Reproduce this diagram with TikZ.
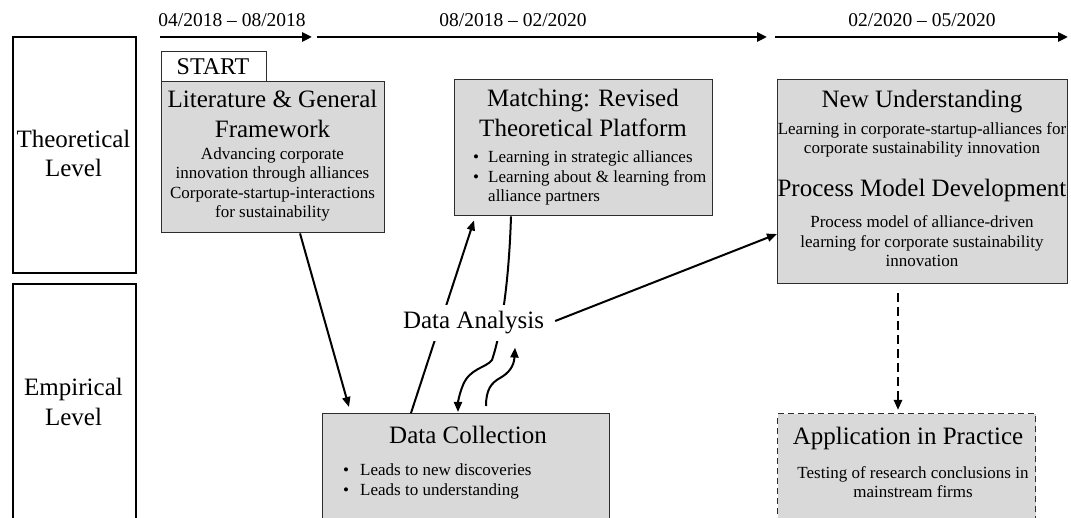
\documentclass[tikz,border=0pt]{standalone}
\usepackage{fontspec}
\setmainfont{Liberation Serif}
\usetikzlibrary{arrows.meta}

\definecolor{boxfill}{RGB}{217,217,217}
\definecolor{edge}{RGB}{45,45,45}
\newcommand{\itemdot}[1][15pt]{\makebox[#1][l]{\textbullet}}

% multi-line nodes are placed by the baseline of their last line
\tikzset{
  box/.style={draw=edge, line width=1.4pt, fill=boxfill, inner sep=0pt, anchor=north west},
  levelbox/.style={draw=black, line width=1.8pt, inner sep=0pt, anchor=north west},
  title/.style={font=\fontsize{25}{30}\selectfont, align=center, inner sep=0pt, anchor=base},
  body/.style={font=\fontsize{17}{19.6}\selectfont, align=center, inner sep=0pt, anchor=base},
  period/.style={font=\fontsize{19.5}{22}\selectfont, inner sep=0pt, anchor=base},
  arr/.style={line width=2pt, -{Triangle[length=10pt,width=8pt]}},
  timearr/.style={line width=2.8pt, -{Triangle[length=10pt,width=9pt]}},
}

\begin{document}
\begin{tikzpicture}[x=1pt, y=-1pt]
  \useasboundingbox (0,0) rectangle (1071,518);
  \clip (0,0) rectangle (1071,518);

  % time line
  \coordinate (a1) at (160,37);  \coordinate (b1) at (312,37);
  \coordinate (a2) at (317,37);  \coordinate (b2) at (767,37);
  \coordinate (a3) at (775,37);  \coordinate (b3) at (1068,37);
  \draw[timearr] (a1) -- (b1);
  \draw[timearr] (a2) -- (b2);
  \draw[timearr] (a3) -- (b3);
  \node[period] (per1) at (232,27) {04/2018 -- 08/2018};
  \node[period] (per2) at (513,27) {08/2018 -- 02/2020};
  \node[period] (per3) at (922,27) {02/2020 -- 05/2020};

  % level columns
  \node[levelbox, minimum width=123pt, minimum height=236pt] (theo) at (12,36) {};
  \node[levelbox, minimum width=123pt, minimum height=260pt] (emp) at (12,283) {};
  \node[title] (theoT) at (73.5,177) {Theoretical\\[-1pt]Level};
  \node[title] (empT) at (73.5,425) {Empirical\\Level};

  % boxes
  \node[box, fill=white, minimum width=105pt, minimum height=30pt] (start) at (161,51) {};
  \node[box, minimum width=223pt, minimum height=151pt] (lit) at (161,81) {};
  \node[box, minimum width=258pt, minimum height=136pt] (match) at (454,79) {};
  \node[box, minimum width=290pt, minimum height=204pt] (nu) at (777,79) {};
  \node[box, minimum width=287pt, minimum height=130pt] (dc) at (322,413) {};
  \node[box, dash pattern=on 6pt off 4pt, minimum width=258pt, minimum height=130pt] (app) at (777,413) {};

  % box texts
  \node[font=\fontsize{24}{28}\selectfont, inner sep=0pt, anchor=base] (startT) at (213,75) {START};
  \node[title] (litT) at (272.5,138) {Literature \& General\\Framework};
  \node[body] (litB) at (272.5,218) {Advancing corporate\\innovation through alliances\\Corporate-startup-interactions\\for sustainability};

  \node[title] (matchT) at (583,137) {Matching: Revised\\Theoretical Platform};
  \node[body, align=left, anchor=base west] (matchB) at (473,202)
    {\itemdot Learning in strategic alliances\\\itemdot Learning about \& learning from\\\hspace*{15pt}alliance partners};

  \node[title] (nuT) at (922,108) {New Understanding};
  \node[body, font=\fontsize{17}{19}\selectfont] (nuB) at (922,154) {Learning in corporate-startup-alliances for\\corporate sustainability innovation};
  \node[title] (pmT) at (922,197) {Process Model Development};
  \node[body] (pmB) at (922,267) {Process model of alliance-driven\\learning for corporate sustainability\\innovation};

  \node[title] (dcT) at (468,443) {Data Collection};
  \node[body, align=left, anchor=base west] (dcB) at (343,495)
    {\itemdot[17pt]Leads to new discoveries\\\itemdot[17pt]Leads to understanding};

  \node[title] (appT) at (908,445) {Application in Practice};
  \node[body, font=\fontsize{17}{19}\selectfont] (appB) at (913,497) {Testing of research conclusions in\\mainstream firms};

  % connectors passing behind the analysis label
  \draw[arr] ([xshift=139pt]lit.south west) -- ([xshift=27pt,yshift=6pt]dc.north west);
  \draw[arr] ([xshift=89pt]dc.north west) -- ([xshift=20pt,yshift=-4pt]match.south west);
  \draw[arr] ([xshift=57pt]match.south west)
     .. controls (509,280) and (502,330) .. (492,360)
     .. controls (486,368) and (470,368) .. (463,385)
     .. controls (459,395) and (458,402) .. ([xshift=136pt,yshift=1pt]dc.north west);

  \node[title, fill=white, inner sep=7pt] (da) at (473.5,329) {Data Analysis};

  \draw[arr] ([xshift=164pt,yshift=7pt]dc.north west)
     .. controls (486,390) and (491,383) .. (500,378)
     .. controls (509,373) and (514,366) .. ([xshift=41.5pt,yshift=-6pt]da.south);
  \draw[arr] ([xshift=4pt,yshift=2pt]da.east) -- ([yshift=-155pt]nu.north west);
  \draw[arr, dash pattern=on 9pt off 5pt, line width=2.4pt]
     ([xshift=121pt,yshift=-9pt]nu.south west) -- ([xshift=121pt,yshift=3pt]app.north west);
\end{tikzpicture}
\end{document}
